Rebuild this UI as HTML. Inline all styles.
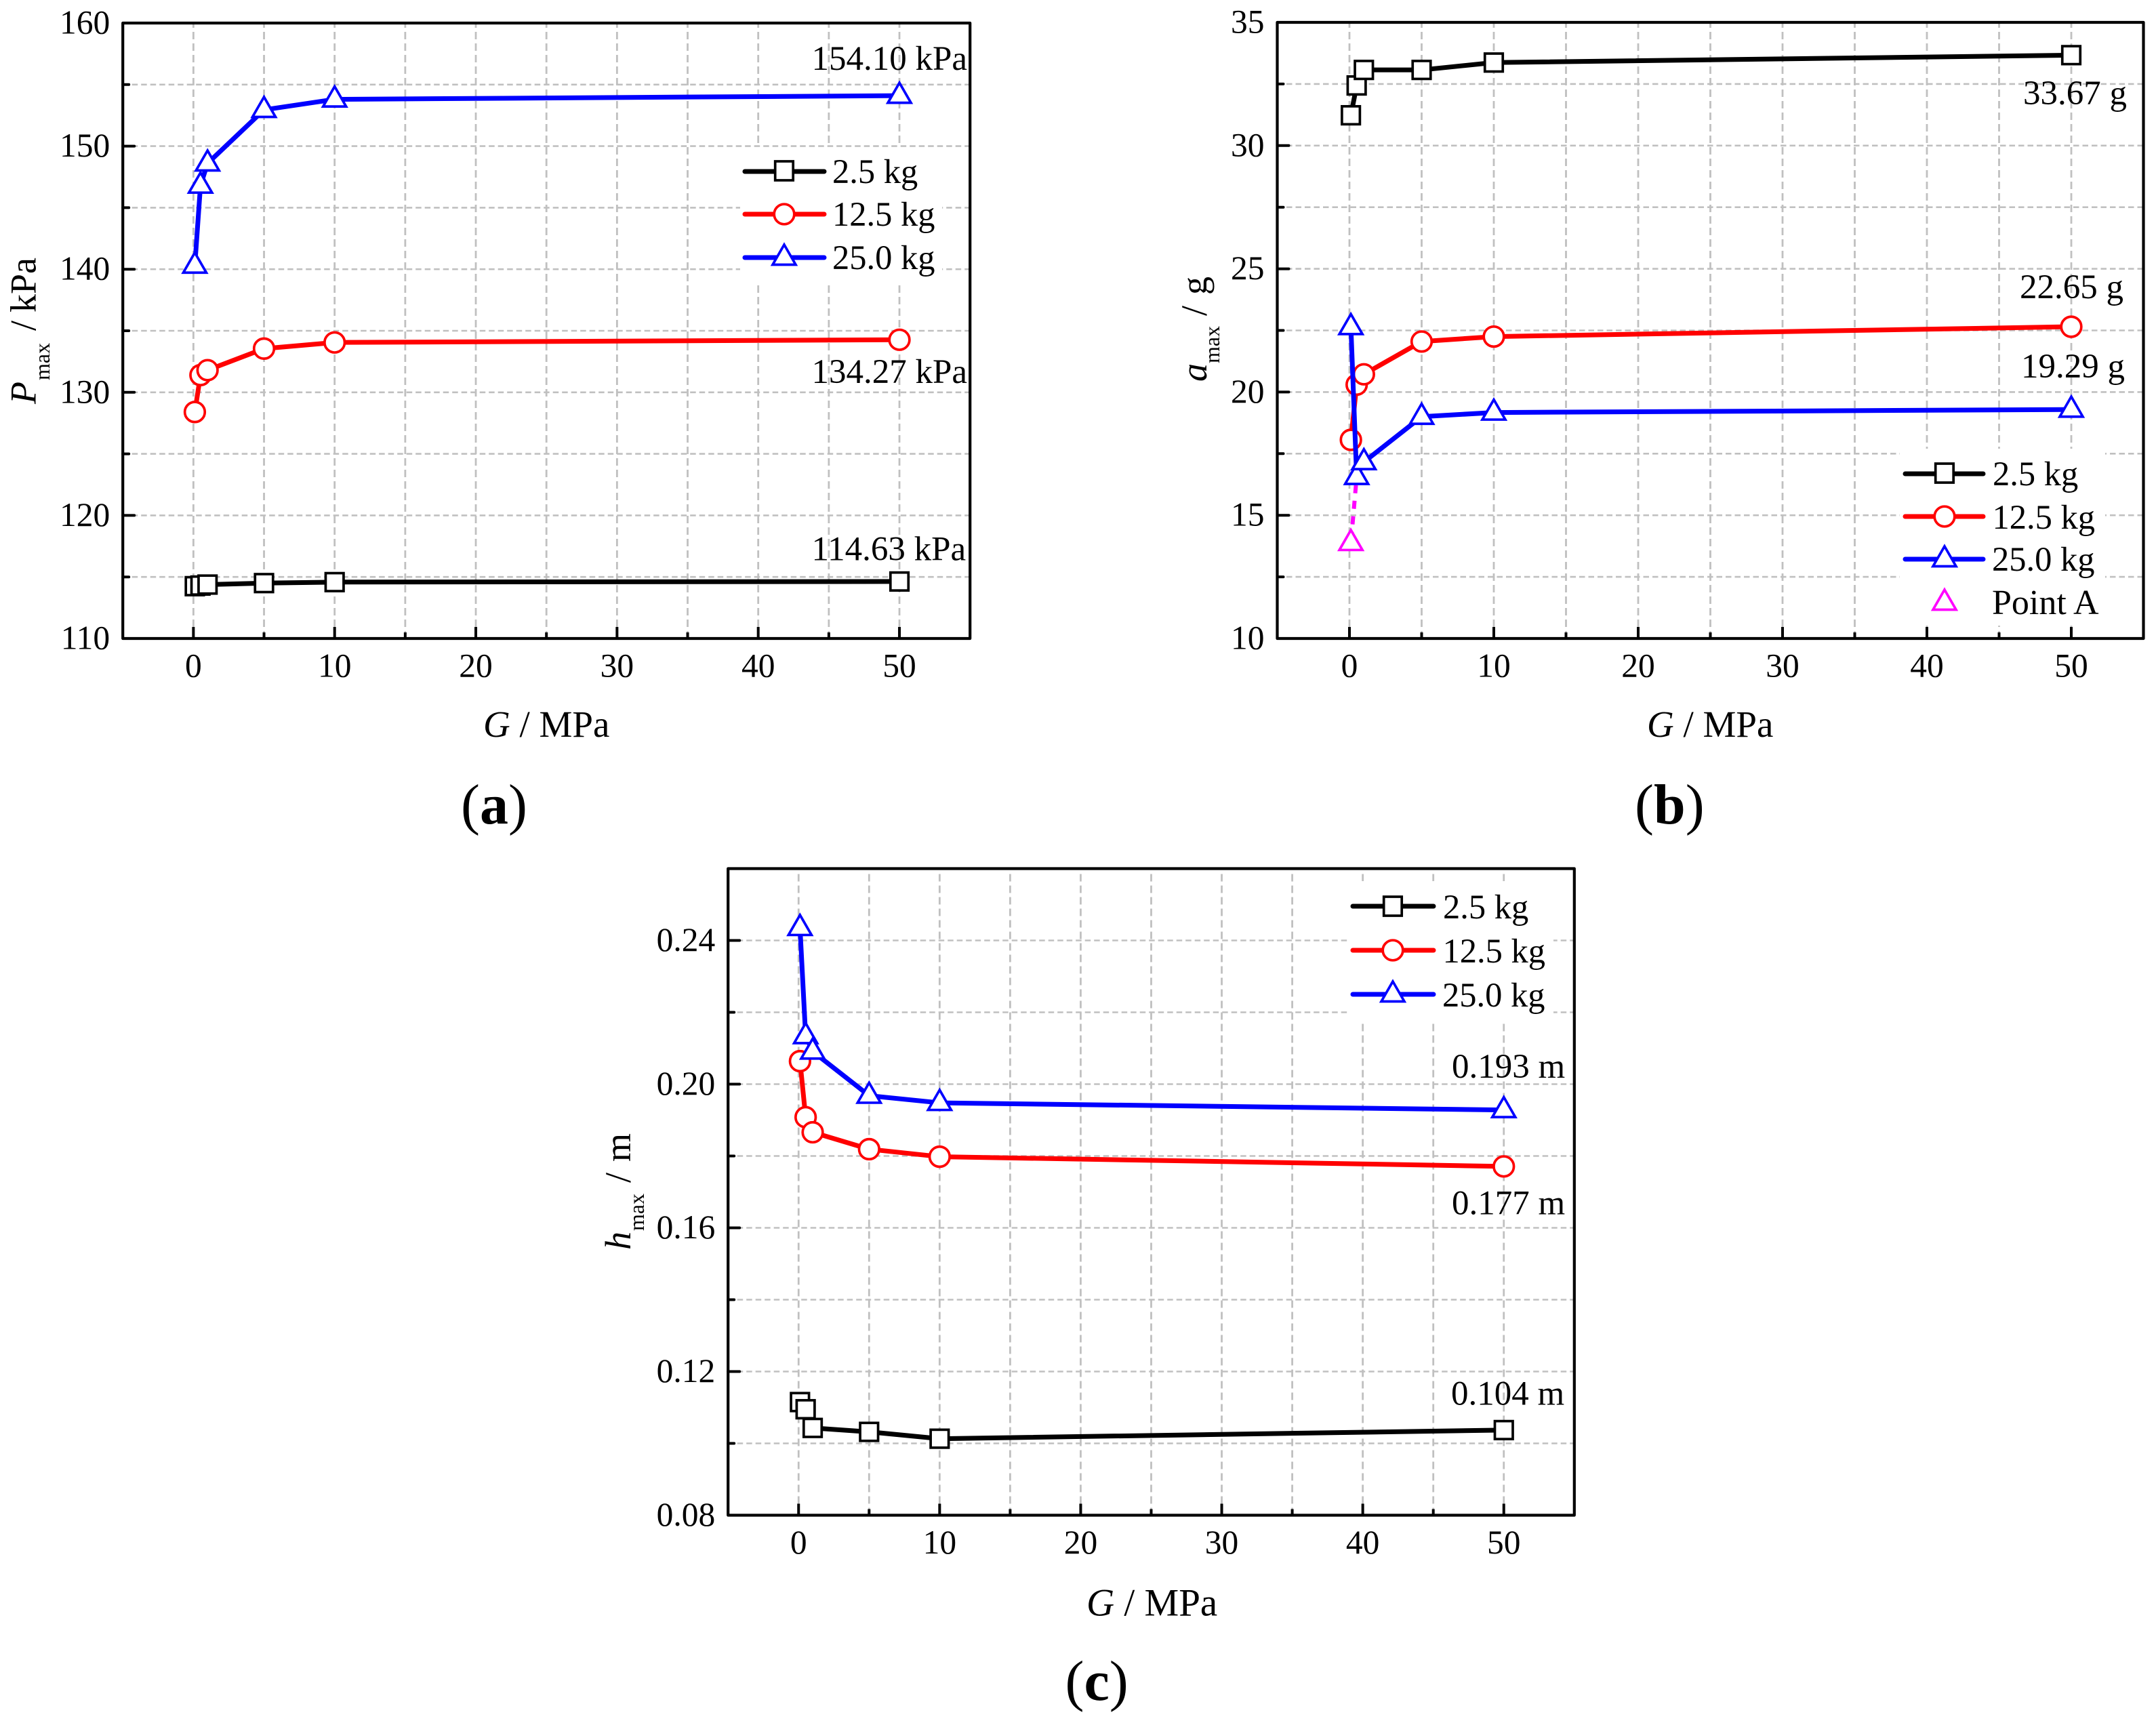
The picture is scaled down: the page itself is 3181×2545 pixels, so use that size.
<!DOCTYPE html>
<html lang="en">
<head>
<meta charset="utf-8">
<title>Maximum pressure, acceleration and displacement versus G</title>
<style>
html,body{margin:0;padding:0;background:#fff;}
svg{display:block;position:absolute;left:0;top:0;}
text{font-family:"Liberation Serif",serif;fill:#000;}
.tick{font-size:49.5px;}
.note{font-size:51px;}
.leg{font-size:50.5px;}
.title{font-size:54px;}
.xt{font-size:55px;}
.sub{font-size:32px;}
.cap{font-size:84px;}
</style>
</head>
<body>
<svg id="fig" xmlns="http://www.w3.org/2000/svg" width="3181" height="2545" viewBox="0 0 3181 2545">
  <rect x="0" y="0" width="3181" height="2545" fill="#fff"/>

  <g id="plot-a"></g>
  <g id="plot-b"></g>
  <g id="plot-c"></g>

  <!-- Panel (a) text + legend -->
  <g>
    <rect x="1092" y="217" width="298" height="198" fill="#fff"/>
    <line x1="1099" y1="253" x2="1216" y2="253" stroke="#000" stroke-width="7" stroke-linecap="round"/>
    <rect x="1143.7" y="238" width="26.5" height="28" fill="#fff" stroke="#000" stroke-width="3.7"/>
    <text class="leg" x="1228" y="270">2.5 kg</text>
    <line x1="1099" y1="316" x2="1216" y2="316" stroke="#f00" stroke-width="7" stroke-linecap="round"/>
    <circle cx="1157" cy="316" r="14.8" fill="#fff" stroke="#f00" stroke-width="3.7"/>
    <text class="leg" x="1228" y="333">12.5 kg</text>
    <line x1="1099" y1="380" x2="1216" y2="380" stroke="#00f" stroke-width="7" stroke-linecap="round"/>
    <polygon points="1157,361 1174,390.5 1140,390.5" fill="#fff" stroke="#00f" stroke-width="3.7"/>
    <text class="leg" x="1228" y="397">25.0 kg</text>
  </g>
  <text class="note" x="1197.5" y="103">154.10 kPa</text>
  <text class="note" x="1197.5" y="565">134.27 kPa</text>
  <text class="note" x="1197.5" y="826.5">114.63 kPa</text>
  <text class="xt" x="713" y="1087"><tspan font-style="italic">G</tspan> / MPa</text>
  <g transform="translate(52.5,0) rotate(-90)">
    <text class="title" x="-596" y="0" font-style="italic">P</text>
    <text class="sub" x="-561" y="20.5">max</text>
    <text class="title" x="-488" y="0">/</text>
    <text class="title" x="-461" y="0">kPa</text>
  </g>
  <text class="cap" x="680" y="1215">(<tspan font-weight="bold">a</tspan>)</text>

  <!-- Panel (b) text + legend -->
  <g>
    <rect x="2803" y="662" width="303" height="261" fill="#fff"/>
    <line x1="2811" y1="699" x2="2926" y2="699" stroke="#000" stroke-width="7" stroke-linecap="round"/>
    <rect x="2855.7" y="684" width="26.5" height="28" fill="#fff" stroke="#000" stroke-width="3.7"/>
    <text class="leg" x="2940" y="716">2.5 kg</text>
    <line x1="2811" y1="762" x2="2926" y2="762" stroke="#f00" stroke-width="7" stroke-linecap="round"/>
    <circle cx="2869" cy="762" r="14.8" fill="#fff" stroke="#f00" stroke-width="3.7"/>
    <text class="leg" x="2939.5" y="780">12.5 kg</text>
    <line x1="2811" y1="825" x2="2926" y2="825" stroke="#00f" stroke-width="7" stroke-linecap="round"/>
    <polygon points="2869,806 2886,835.5 2852,835.5" fill="#fff" stroke="#00f" stroke-width="3.7"/>
    <text class="leg" x="2939" y="842">25.0 kg</text>
    <polygon points="2869,870 2886,899.5 2852,899.5" fill="#fff" stroke="#f0f" stroke-width="3.7"/>
    <text class="leg" x="2939" y="906" font-size="52" style="font-size:52px">Point A</text>
  </g>
  <text class="note" x="2985" y="154">33.67 g</text>
  <text class="note" x="2980" y="440">22.65 g</text>
  <text class="note" x="2982" y="557">19.29 g</text>
  <text class="xt" x="2430" y="1087"><tspan font-style="italic">G</tspan> / MPa</text>
  <g transform="translate(1780,0) rotate(-90)">
    <text class="title" x="-563" y="0" font-style="italic">a</text>
    <text class="sub" x="-536" y="19">max</text>
    <text class="title" x="-466" y="0">/</text>
    <text class="title" x="-435" y="0">g</text>
  </g>
  <text class="cap" x="2412" y="1215">(<tspan font-weight="bold">b</tspan>)</text>

  <!-- Panel (c) text + legend -->
  <g>
    <rect x="1989" y="1300" width="303" height="206" fill="#fff"/>
    <line x1="1996" y1="1337" x2="2115" y2="1337" stroke="#000" stroke-width="7" stroke-linecap="round"/>
    <rect x="2041.7" y="1323" width="26.5" height="28" fill="#fff" stroke="#000" stroke-width="3.7"/>
    <text class="leg" x="2129" y="1355">2.5 kg</text>
    <line x1="1996" y1="1402" x2="2115" y2="1402" stroke="#f00" stroke-width="7" stroke-linecap="round"/>
    <circle cx="2055" cy="1402" r="14.8" fill="#fff" stroke="#f00" stroke-width="3.7"/>
    <text class="leg" x="2128.5" y="1420">12.5 kg</text>
    <line x1="1996" y1="1467" x2="2115" y2="1467" stroke="#00f" stroke-width="7" stroke-linecap="round"/>
    <polygon points="2055,1448 2072,1477.5 2038,1477.5" fill="#fff" stroke="#00f" stroke-width="3.7"/>
    <text class="leg" x="2128" y="1485">25.0 kg</text>
  </g>
  <text class="note" x="2142" y="1590">0.193 m</text>
  <text class="note" x="2142" y="1791.7">0.177 m</text>
  <text class="note" x="2141" y="2072.7">0.104 m</text>
  <text class="xt" x="1603" y="2383.4" style="font-size:57px"><tspan font-style="italic">G</tspan> / MPa</text>
  <g transform="translate(930,0) rotate(-90)">
    <text class="title" x="-1844" y="0" font-style="italic">h</text>
    <text class="sub" x="-1816" y="20">max</text>
    <text class="title" x="-1745" y="0">/</text>
    <text class="title" x="-1714" y="0">m</text>
  </g>
  <text class="cap" x="1571.5" y="2508">(<tspan font-weight="bold">c</tspan>)</text>
</svg>

<script>
// Shared x categories: shear modulus G / MPa
const gValues = [0.1, 0.5, 1, 5, 10, 50];
const xTickLabels = [0, 10, 20, 30, 40, 50];

// Panel (a): P_max / kPa
const pMax2_5kg = [114.25, 114.3, 114.38, 114.5, 114.58, 114.63];
const pMax12_5kg = [128.4, 131.4, 131.8, 133.55, 134.05, 134.27];
const pMax25kg = [140.3, 146.8, 148.6, 152.95, 153.8, 154.1];
const pTickLabels = [110, 120, 130, 140, 150, 160];

// Panel (b): a_max / g
const aMax2_5kg = [31.23, 32.44, 33.07, 33.07, 33.37, 33.67];
const aMax12_5kg = [18.06, 20.3, 20.72, 22.05, 22.25, 22.65];
const aMax25kg = [22.64, 16.56, 17.16, 19.0, 19.17, 19.29];
const aTickLabels = [10, 15, 20, 25, 30, 35];
const pointAG = [0.1];
const pointAValue = [13.88];

// Panel (c): h_max / m
const hMax2_5kg = [0.1115, 0.1095, 0.1043, 0.1032, 0.1013, 0.1037];
const hMax12_5kg = [0.2064, 0.1908, 0.1866, 0.1819, 0.1798, 0.1771];
const hMax25kg = [0.2435, 0.2134, 0.2091, 0.1968, 0.1948, 0.1928];
const hTickLabels = ['0.08', '0.12', '0.16', '0.20', '0.24'];

const SVGNS = 'http://www.w3.org/2000/svg';
function mk(tag, attrs, parent) {
  const node = document.createElementNS(SVGNS, tag);
  for (const k in attrs) node.setAttribute(k, attrs[k]);
  parent.appendChild(node);
  return node;
}
function linearAxis(d0, d1, p0, p1) {
  return function (v) { return p0 + (v - d0) * (p1 - p0) / (d1 - d0); };
}

function drawMarker(shape, colour, cx, cy, parent, seriesName) {
  let m;
  if (shape === 'square') {
    m = mk('rect', {x: cx - 13.25, y: cy - 13.25, width: 26.5, height: 26.5, fill: '#fff', stroke: colour, 'stroke-width': 3.7}, parent);
  } else if (shape === 'circle') {
    m = mk('circle', {cx: cx, cy: cy, r: 14.8, fill: '#fff', stroke: colour, 'stroke-width': 3.7}, parent);
  } else {
    m = mk('polygon', {points: cx + ',' + (cy - 19) + ' ' + (cx + 17) + ',' + (cy + 10.5) + ' ' + (cx - 17) + ',' + (cy + 10.5), fill: '#fff', stroke: colour, 'stroke-width': 3.7}, parent);
  }
  
  
}

function drawSeries(panel, seriesName, values, colour, shape, parent) {
  const g = mk('g', {}, parent);
  
  
  const pts = values.map(function (v, i) { return panel.x(gValues[i]) + ',' + panel.y(v); }).join(' ');
  const line = mk('polyline', {points: pts, fill: 'none', stroke: colour, 'stroke-width': 7, 'stroke-linejoin': 'round', 'stroke-linecap': 'round'}, g);
  
  
  values.forEach(function (v, i) {
    drawMarker(shape, colour, panel.x(gValues[i]), panel.y(v), g, seriesName);
  });
}

function drawAxes(panel, parent) {
  const xL = panel.x(panel.xMin), xR = panel.x(panel.xMax);
  const yB = panel.y(panel.yMin), yT = panel.y(panel.yMax);
  const yMajor = panel.yLabels.map(Number);
  const yStep = (yMajor[1] - yMajor[0]) / 2;

  // grid lines (every major + minor step)
  for (let v = 0; v <= 50; v += 5) {
    const gx = mk('line', {x1: panel.x(v), x2: panel.x(v), y1: yB, y2: yT, stroke: '#c0c0c0', 'stroke-width': 2.8, 'stroke-dasharray': '11 6'}, parent);
    
    
  }
  for (let i = 1; yMajor[0] + i * yStep < panel.yMax - yStep * 0.01; i++) {
    const gy = panel.y(yMajor[0] + i * yStep);
    const gl = mk('line', {x1: xL, x2: xR, y1: gy, y2: gy, stroke: '#c0c0c0', 'stroke-width': 2.6, 'stroke-dasharray': '8.5 5'}, parent);
    
    
  }

  // y ticks (major + minor) and labels
  for (let i = 0; yMajor[0] + i * yStep <= panel.yMax + yStep * 0.01; i++) {
    const val = yMajor[0] + i * yStep;
    const py = panel.y(val);
    const isMajor = i % 2 === 0;
    if (i > 0 && py > yT + 1) {
      const t = mk('line', {x1: xL, x2: xL + (isMajor ? 17 : 9), y1: py, y2: py, stroke: '#000', 'stroke-width': 4, 'stroke-linecap': 'round'}, parent);
      
      
    }
  }
  panel.yLabels.forEach(function (lab) {
    const lb = mk('text', {class: 'tick', x: xL - 19, y: panel.y(Number(lab)) + 15.5, 'text-anchor': 'end'}, parent);
    lb.textContent = lab;
    
    
  });

  // x ticks and labels
  for (let v = 0; v <= 50; v += 5) {
    const isMajor = v % 10 === 0;
    const xt = mk('line', {x1: panel.x(v), x2: panel.x(v), y1: yB, y2: yB - (isMajor ? 17 : 9), stroke: '#000', 'stroke-width': 4, 'stroke-linecap': 'butt'}, parent);
    
    
  }
  xTickLabels.forEach(function (lab) {
    const lb = mk('text', {class: 'tick', x: panel.x(lab), y: yB + 56.5, 'text-anchor': 'middle'}, parent);
    lb.textContent = String(lab);
    
    
  });
}

function drawFrame(panel, parent) {
  const xL = panel.x(panel.xMin), xR = panel.x(panel.xMax);
  const yB = panel.y(panel.yMin), yT = panel.y(panel.yMax);
  const f = mk('rect', {x: xL, y: yT, width: xR - xL, height: yB - yT, fill: 'none', stroke: '#000', 'stroke-width': 4.2, 'stroke-linejoin': 'round'}, parent);
  
  
}

const panelA = {
  xMin: -5, xMax: 55, yMin: 110, yMax: 160, yLabels: pTickLabels.map(String),
  x: linearAxis(-5, 55, 181.2, 1431.2),
  y: linearAxis(110, 160, 942, 34)
};
const panelB = {
  xMin: -5, xMax: 55, yMin: 10, yMax: 35, yLabels: aTickLabels.map(String),
  x: linearAxis(-5, 55, 1884.5, 3162.5),
  y: linearAxis(10, 35, 942, 33)
};
const panelC = {
  xMin: -5, xMax: 55, yMin: 0.08, yMax: 0.26, yLabels: hTickLabels,
  x: linearAxis(-5, 55, 1074.2, 2322.8),
  y: linearAxis(0.08, 0.26, 2235.5, 1281.5)
};

// Panel (a)
(function () {
  const host = document.getElementById('plot-a');
  drawAxes(panelA, host);
  drawFrame(panelA, host);
  drawSeries(panelA, 'series-a-2-5kg', pMax2_5kg, '#000', 'square', host);
  drawSeries(panelA, 'series-a-12-5kg', pMax12_5kg, '#f00', 'circle', host);
  drawSeries(panelA, 'series-a-25kg', pMax25kg, '#00f', 'triangle', host);
})();

// Panel (b)
(function () {
  const host = document.getElementById('plot-b');
  drawAxes(panelB, host);
  drawFrame(panelB, host);
  drawSeries(panelB, 'series-b-2-5kg', aMax2_5kg, '#000', 'square', host);
  drawSeries(panelB, 'series-b-12-5kg', aMax12_5kg, '#f00', 'circle', host);
  const link = mk('line', {
    x1: panelB.x(gValues[1]), y1: panelB.y(aMax25kg[1]),
    x2: panelB.x(pointAG[0]), y2: panelB.y(pointAValue[0]),
    stroke: '#f0f', 'stroke-width': 6, 'stroke-dasharray': '12 11', 'stroke-dashoffset': 10.6
  }, host);
  
  
  drawMarker('triangle', '#f0f', panelB.x(pointAG[0]), panelB.y(pointAValue[0]), host, 'point-a');
  drawSeries(panelB, 'series-b-25kg', aMax25kg, '#00f', 'triangle', host);
})();

// Panel (c)
(function () {
  const host = document.getElementById('plot-c');
  drawAxes(panelC, host);
  drawFrame(panelC, host);
  drawSeries(panelC, 'series-c-2-5kg', hMax2_5kg, '#000', 'square', host);
  drawSeries(panelC, 'series-c-12-5kg', hMax12_5kg, '#f00', 'circle', host);
  drawSeries(panelC, 'series-c-25kg', hMax25kg, '#00f', 'triangle', host);
})();
</script>
</body>
</html>
